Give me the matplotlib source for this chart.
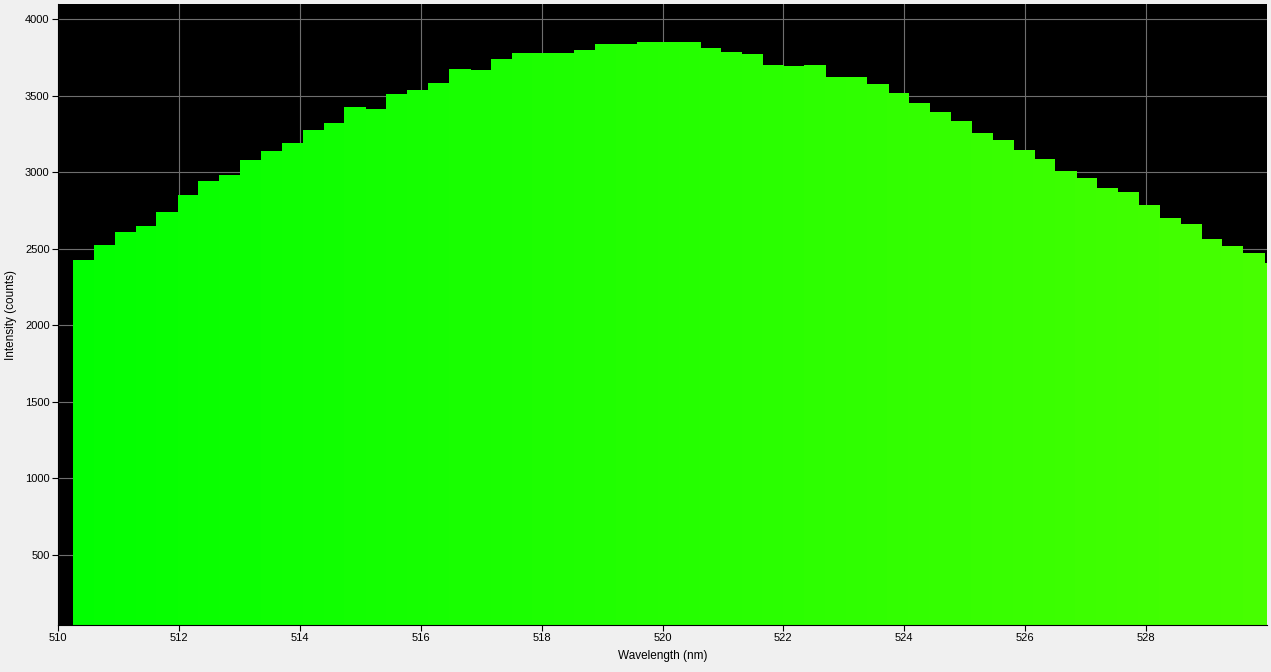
import matplotlib
matplotlib.use("Agg")
import matplotlib.pyplot as plt

# bar centres (nm) and intensities
wavelengths = [510.42, 510.77, 511.11, 511.46, 511.80, 512.15, 512.49, 512.84,
               513.19, 513.53, 513.88, 514.22, 514.57, 514.91, 515.26, 515.60,
               515.95, 516.29, 516.64, 516.99, 517.33, 517.68, 518.02, 518.37,
               518.71, 519.06, 519.40, 519.75, 520.09, 520.44, 520.78, 521.13,
               521.48, 521.82, 522.17, 522.51, 522.86, 523.20, 523.55, 523.89,
               524.24, 524.58, 524.93, 525.28, 525.62, 525.97, 526.31, 526.66,
               527.00, 527.35, 527.69, 528.04, 528.38, 528.73, 529.07, 529.42,
               529.77, 530.11]
counts = [2427, 2525, 2610, 2650, 2741, 2852, 2943, 2982,
          3080, 3139, 3192, 3277, 3322, 3427, 3414, 3512,
          3538, 3584, 3675, 3669, 3741, 3780, 3780, 3780,
          3800, 3838, 3838, 3851, 3851, 3851, 3812, 3786,
          3773, 3701, 3695, 3701, 3623, 3623, 3577, 3519,
          3453, 3394, 3335, 3257, 3211, 3146, 3087, 3009,
          2963, 2897, 2871, 2786, 2701, 2662, 2564, 2518,
          2473, 2408]
x_ticks = [510, 512, 514, 516, 518, 520, 522, 524, 526, 528]
y_ticks = [500, 1000, 1500, 2000, 2500, 3000, 3500, 4000]

plt.rcParams['font.family'] = ['Liberation Sans', 'DejaVu Sans']

# colour of each bar goes from pure green to yellow-green with wavelength
def bar_colour(w):
    t = (w - 510.0) / 20.0
    return (min(max(0.28 * t, 0), 1), 1.0, 0.0)

fig = plt.figure(figsize=(12.71, 6.72), dpi=100, facecolor='#f0f0f0')
ax = fig.add_axes([58 / 1271, 47 / 672, 1209 / 1271, 621 / 672])
ax.set_facecolor('black')

cols = [bar_colour(w) for w in wavelengths]
ax.bar(wavelengths, counts, width=0.3454, align='center',
       color=cols, edgecolor=cols, linewidth=0.6, antialiased=False, zorder=2)

ax.set_xlim(510, 530)
ax.set_ylim(40, 4100)
ax.set_xticks(x_ticks)
ax.set_yticks(y_ticks)
ax.grid(True, color='#6e6e6e', linewidth=0.8, zorder=1)
ax.set_axisbelow(True)

ax.tick_params(axis='both', labelsize=8, length=4, width=0.8, color='black', pad=2)
for side in ['top', 'right']:
    ax.spines[side].set_visible(False)
for side in ['left', 'bottom']:
    ax.spines[side].set_color('black')
    ax.spines[side].set_linewidth(0.8)

ax.set_xlabel("Wavelength (nm)", fontsize=8.5, labelpad=5)
ax.set_ylabel("Intensity (counts)", fontsize=8.5, labelpad=6)

fig.savefig("out.png", dpi=100, facecolor=fig.get_facecolor())
